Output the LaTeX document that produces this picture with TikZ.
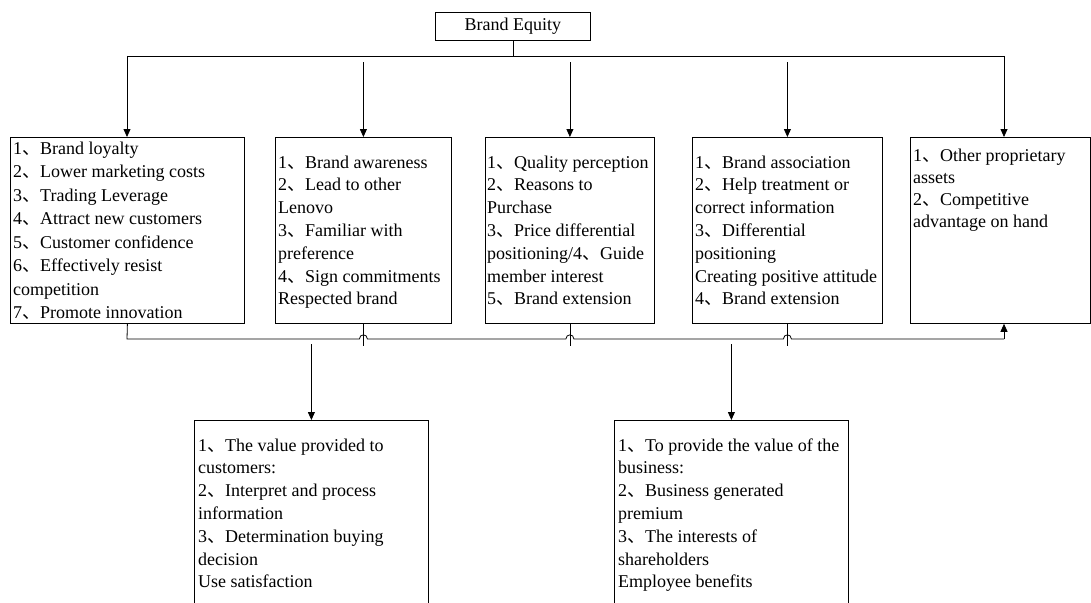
\documentclass[tikz,border=0pt]{standalone}
\usepackage{fontspec}
\setmainfont{Liberation Serif}
\newfontfamily\cjkfont{Noto Sans CJK SC}
\usetikzlibrary{arrows.meta,calc}
\newcommand\dunhao{{\cjkfont 、}}
\newcommand\mytxt[1]{\parbox[t]{260pt}{\raggedright #1}}
\begin{document}
\begin{tikzpicture}[x=1pt,y=-1pt,
  ln/.style={line width=0.8pt, draw=black},
  box/.style={ln, anchor=north west, inner sep=0pt, font=\fontsize{18pt}{22pt}\selectfont},
  txt/.style={anchor=base west, inner sep=0pt, font=\fontsize{18pt}{22.8pt}\selectfont},
  arr/.style={ln, -{Triangle[length=8pt,width=7pt]}}]
\useasboundingbox (0,0) rectangle (1091,602);
\clip (0,0) rectangle (1091,602);
\fill[white] (0,0) rectangle (1091,602);

% boxes
\node[box, minimum width=155pt, minimum height=28pt] (be) at (435,12) {Brand Equity};
\node[box, minimum width=234pt, minimum height=186pt] (b1) at (10,137) {};
\node[box, minimum width=176pt, minimum height=186pt] (b2) at (275,137) {};
\node[box, minimum width=169pt, minimum height=186pt] (b3) at (485,137) {};
\node[box, minimum width=190pt, minimum height=186pt] (b4) at (692,137) {};
\node[box, minimum width=180pt, minimum height=186pt] (b5) at (910,137) {};
\node[box, minimum width=234pt, minimum height=200pt] (c1) at (194,420) {};
\node[box, minimum width=234pt, minimum height=200pt] (c2) at (614,420) {};

% texts
\node[txt, font=\fontsize{18pt}{23.5pt}\selectfont] (t1) at ($(b1.north west)+(3,17)$) {\mytxt{%
1\dunhao Brand loyalty\\
2\dunhao Lower marketing costs\\
3\dunhao Trading Leverage\\
4\dunhao Attract new customers\\
5\dunhao Customer confidence\\
6\dunhao Effectively resist\\
competition\\
7\dunhao Promote innovation}};
\node[txt] (t2) at ($(b2.north west)+(3,31)$) {\mytxt{%
1\dunhao Brand awareness\\
2\dunhao Lead to other\\
Lenovo\\
3\dunhao Familiar with\\
preference\\
4\dunhao Sign commitments\\
Respected brand}};
\node[txt] (t3) at ($(b3.north west)+(2,31)$) {\mytxt{%
1\dunhao Quality perception\\
2\dunhao Reasons to\\
Purchase\\
3\dunhao Price differential\\
positioning/4\dunhao Guide\\
member interest\\
5\dunhao Brand extension}};
\node[txt] (t4) at ($(b4.north west)+(3,31)$) {\mytxt{%
1\dunhao Brand association\\
2\dunhao Help treatment or\\
correct information\\
3\dunhao Differential\\
positioning\\
Creating positive attitude\\
4\dunhao Brand extension}};
\node[txt, font=\fontsize{18pt}{22pt}\selectfont] (t5) at ($(b5.north west)+(3,24)$) {\mytxt{%
1\dunhao Other proprietary\\
assets\\
2\dunhao Competitive\\
advantage on hand}};
\node[txt] (u1) at ($(c1.north west)+(4,31)$) {\mytxt{%
1\dunhao The value provided to\\
customers:\\
2\dunhao Interpret and process\\
information\\
3\dunhao Determination buying\\
decision\\
Use satisfaction}};
\node[txt] (u2) at ($(c2.north west)+(4,31)$) {\mytxt{%
1\dunhao To provide the value of the\\
business:\\
2\dunhao Business generated\\
premium\\
3\dunhao The interests of\\
shareholders\\
Employee benefits}};

% top connectors
\coordinate (tl) at (127,56);
\coordinate (tr) at (1004,56);
\coordinate (ts) at (0,62);
\draw[ln] (be.south) -- (be.south |- tl);
\draw[ln] (tl) -- (tr);
\draw[arr] (tl) -- (tl |- b1.north);
\draw[arr] (b2.north |- ts) -- (b2.north);
\draw[arr] (b3.north |- ts) -- (b3.north);
\draw[arr] (b4.north |- ts) -- (b4.north);
\draw[arr] (tr) -- (tr |- b5.north);

% bottom connectors
\coordinate (bl) at (127,339);
\coordinate (br) at (1004,339);
\draw[ln] (b2.south) -- ++(0,22);
\draw[ln] (b3.south) -- ++(0,22);
\draw[ln] (b4.south) -- ++(0,22);
\draw[ln] (b1.south) -- (bl)
  -- ($(b2.south |- bl)+(-4,0)$) .. controls ($(b2.south |- bl)+(-4,-5.5)$) and ($(b2.south |- bl)+(4,-5.5)$) .. ($(b2.south |- bl)+(4,0)$)
  -- ($(b3.south |- bl)+(-4,0)$) .. controls ($(b3.south |- bl)+(-4,-5.5)$) and ($(b3.south |- bl)+(4,-5.5)$) .. ($(b3.south |- bl)+(4,0)$)
  -- ($(b4.south |- bl)+(-4,0)$) .. controls ($(b4.south |- bl)+(-4,-5.5)$) and ($(b4.south |- bl)+(4,-5.5)$) .. ($(b4.south |- bl)+(4,0)$)
  -- (br);
\draw[arr] (br) -- (br |- b5.south);
\coordinate (ds) at (0,344);
\draw[arr] (c1.north |- ds) -- (c1.north);
\draw[arr] (c2.north |- ds) -- (c2.north);
\end{tikzpicture}
\end{document}
